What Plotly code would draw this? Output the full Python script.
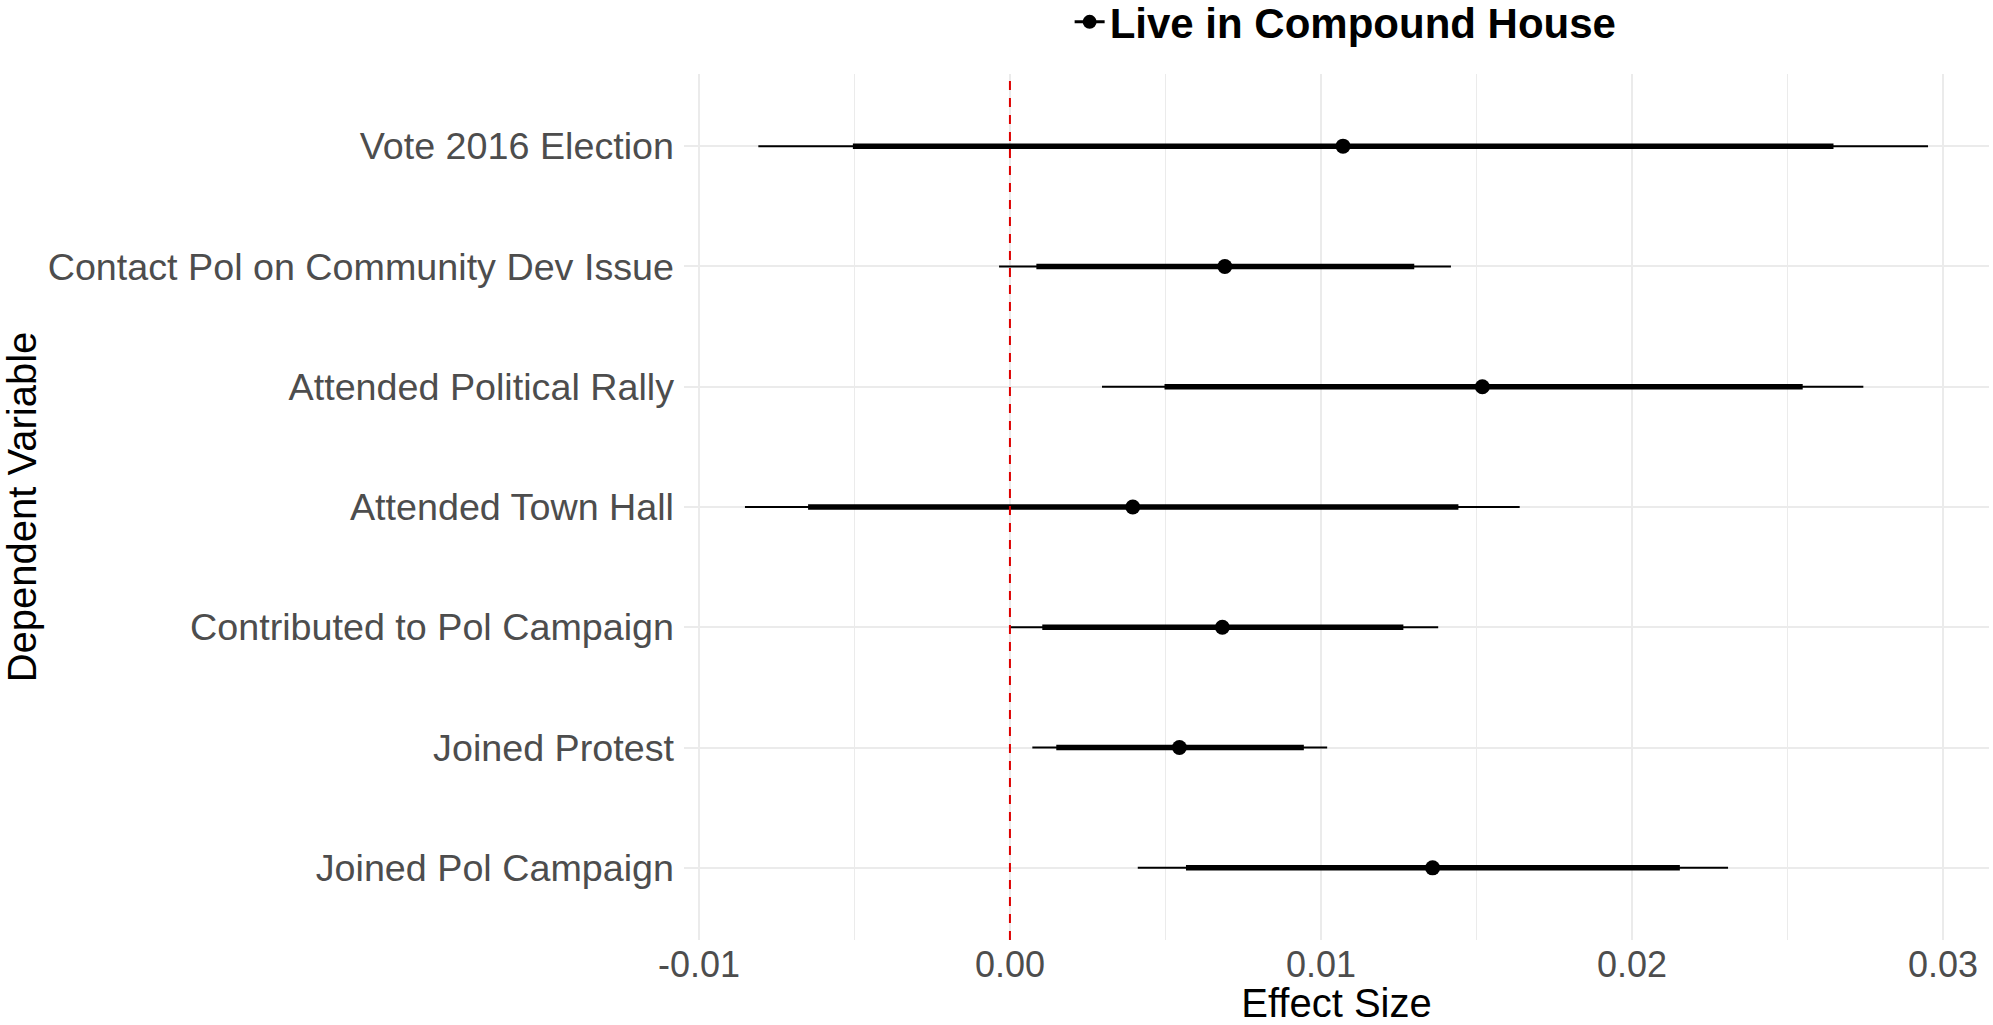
import plotly.graph_objects as go

# ---- data ----
categories = [
    "Vote 2016 Election",
    "Contact Pol on Community Dev Issue",
    "Attended Political Rally",
    "Attended Town Hall",
    "Contributed to Pol Campaign",
    "Joined Protest",
    "Joined Pol Campaign",
]
estimate = [0.01071, 0.00691, 0.01519, 0.00395, 0.00683, 0.00545, 0.01359]
inner_lo = [-0.00505, 0.00085, 0.00497, -0.00649, 0.00104, 0.00149, 0.00566]
inner_hi = [0.02648, 0.01300, 0.02549, 0.01442, 0.01265, 0.00945, 0.02154]
outer_lo = [-0.00809, -0.00035, 0.00296, -0.00852, 0.00000, 0.00072, 0.00411]
outer_hi = [0.02952, 0.01418, 0.02744, 0.01639, 0.01377, 0.01020, 0.02309]

x_tickvals = [-0.01, 0.0, 0.01, 0.02, 0.03]
x_ticktext = ["-0.01", "0.00", "0.01", "0.02", "0.03"]
ref_value = 0.0
series_name = "Live in Compound House"

FONT = "Liberation Sans, Arial, Helvetica, sans-serif"
GRID = "#EBEBEB"

fig = go.Figure()

# outer (thin) interval
fig.add_trace(go.Scatter(
    x=estimate, y=categories, mode="markers",
    marker=dict(size=1, color="rgba(0,0,0,0)"),
    error_x=dict(type="data", symmetric=False,
                 array=[h - e for h, e in zip(outer_hi, estimate)],
                 arrayminus=[e - l for e, l in zip(estimate, outer_lo)],
                 color="black", thickness=2, width=0),
    showlegend=False, hoverinfo="skip",
))
# inner (thick) interval
fig.add_trace(go.Scatter(
    x=estimate, y=categories, mode="markers",
    marker=dict(size=1, color="rgba(0,0,0,0)"),
    error_x=dict(type="data", symmetric=False,
                 array=[h - e for h, e in zip(inner_hi, estimate)],
                 arrayminus=[e - l for e, l in zip(estimate, inner_lo)],
                 color="black", thickness=5.5, width=0),
    showlegend=False, hoverinfo="skip",
))
# point estimates
fig.add_trace(go.Scatter(
    x=estimate, y=categories, mode="markers",
    marker=dict(size=15, color="black"),
    showlegend=False,
))
# legend entry
fig.add_trace(go.Scatter(
    x=[None], y=[None], mode="lines+markers",
    line=dict(color="black", width=3),
    marker=dict(size=14, color="black"),
    name=series_name, showlegend=True,
))

fig.add_shape(type="line", xref="x", yref="paper",
              x0=ref_value, x1=ref_value, y0=0, y1=1,
              line=dict(color="#DD0000", width=2, dash="9px,8px"))

fig.update_layout(
    width=1993, height=1025,
    margin=dict(l=684, r=4, t=74, b=85, pad=0, autoexpand=False),
    paper_bgcolor="white", plot_bgcolor="white",
    font=dict(family=FONT, color="black"),
    showlegend=True,
    legend=dict(
        orientation="h", x=0.507, xanchor="center", xref="paper",
        y=1.060, yanchor="middle", yref="paper",
        font=dict(family=FONT, size=42, color="black", weight="bold"),
        itemwidth=30, bgcolor="rgba(0,0,0,0)",
    ),
    xaxis=dict(
        range=[-0.01048, 0.03148],
        tickmode="array", tickvals=x_tickvals, ticktext=x_ticktext,
        tickfont=dict(family=FONT, size=36, color="#4D4D4D"),
        showgrid=True, gridcolor=GRID, gridwidth=2,
        minor=dict(tickmode="linear", tick0=-0.005, dtick=0.005,
                   showgrid=True, gridcolor=GRID, gridwidth=1),
        zeroline=False, showline=False, ticks="",
        title=dict(text="Effect Size", font=dict(family=FONT, size=40, color="black"),
                   standoff=5),
        automargin=False,
    ),
    yaxis=dict(
        type="category", categoryorder="array", categoryarray=categories,
        range=[6.6, -0.6],
        tickfont=dict(family=FONT, size=37.7, color="#4D4D4D"),
        showgrid=True, gridcolor=GRID, gridwidth=2,
        zeroline=False, showline=False, ticks="",
        ticklabelstandoff=9,
        title=dict(text="Dependent Variable", font=dict(family=FONT, size=40, color="black"),
                   standoff=0),
        automargin=False,
    ),
)

fig.write_html("out.html")
